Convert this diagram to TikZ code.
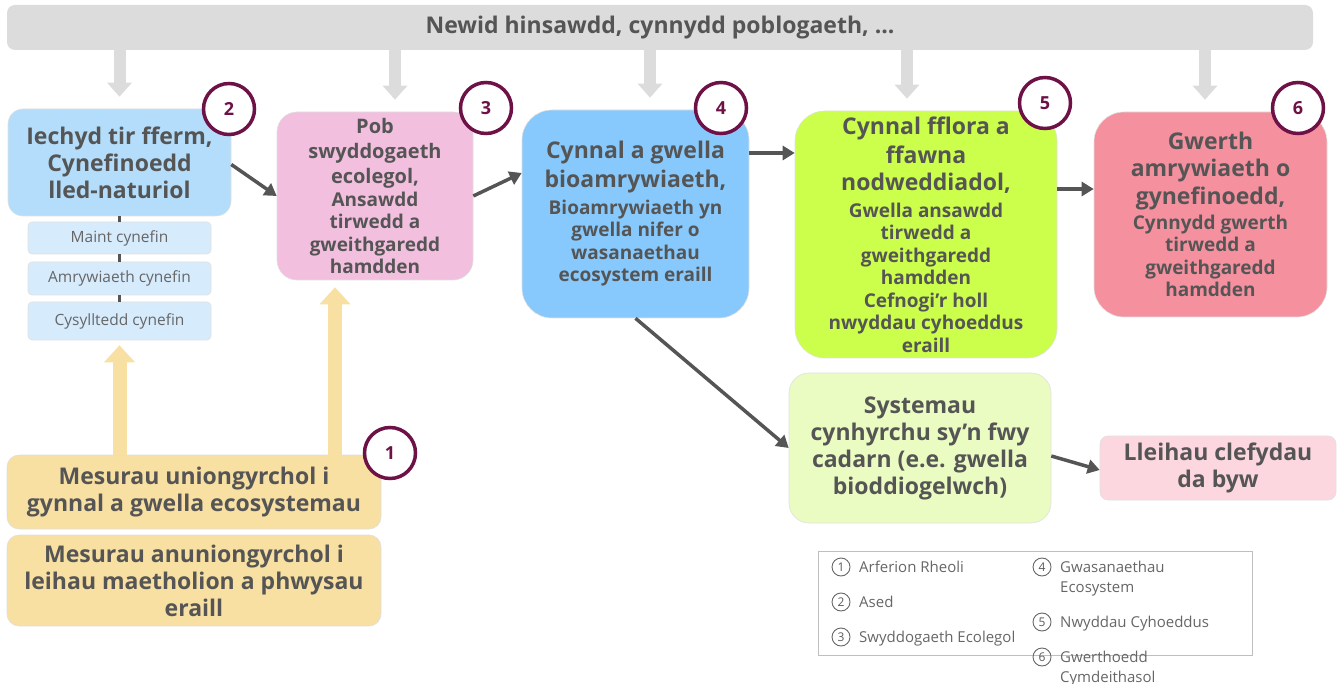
\documentclass[tikz,border=0pt]{standalone}
\usepackage{fontspec}
\setmainfont{Open Sans}
\usetikzlibrary{arrows.meta, calc, positioning}
\definecolor{txt}{HTML}{555555}
\definecolor{plum}{HTML}{6E1147}
\definecolor{bar}{HTML}{DCDCDC}
\definecolor{arr}{HTML}{555555}
\definecolor{tan}{HTML}{F8DFA2}
\definecolor{skyA}{HTML}{B3DDFB}
\definecolor{skyB}{HTML}{D6EBFC}
\definecolor{skyC}{HTML}{87C9FD}
\definecolor{pinkA}{HTML}{F2BFDE}
\definecolor{limeA}{HTML}{CCFE4C}
\definecolor{limeB}{HTML}{EBFCC2}
\definecolor{roseA}{HTML}{F5909F}
\definecolor{roseB}{HTML}{FCD7DF}
\newcommand{\bigtxt}{\fontsize{23}{27}\selectfont}
\newcommand{\midtxt}{\fontsize{20}{25}\selectfont}
\newcommand{\smtxt}{\fontsize{19}{22.5}\selectfont}
\newcommand{\drawa}{\draw[line width=3.5pt, color=arr, -{Triangle[width=14pt,length=12pt]}]}

\begin{document}
\begin{tikzpicture}[x=1pt, y=-1pt,
  box/.style={draw=black!12, line width=0.6pt, text=txt, align=center, inner sep=2pt, font=\bfseries\bigtxt},
  twosize/.style={box, font=\bfseries\smtxt},
  subbox/.style={box, fill=skyB, rounded corners=4pt, minimum width=183pt, text=black!60, font=\fontsize{15.5}{18}\selectfont},
  badge/.style={circle, draw=plum, line width=3.5pt, fill=white, minimum size=51pt, inner sep=0pt, text=plum, font=\bfseries\fontsize{18}{18}\selectfont},
  grayarrow/.style={line width=12pt, color=bar, -{Triangle[width=24pt,length=14pt]}, shorten >=12pt},
  tanarrow/.style={line width=14pt, color=tan, -{Triangle[width=30pt,length=17pt]}},
  legnum/.style={circle, draw=black!60, line width=0.9pt, minimum size=18pt, inner sep=0pt, text=black!65, font=\fontsize{12}{12}\selectfont},
  legtxt/.style={anchor=north west, align=left, text=black!60, font=\fontsize{15}{20}\selectfont, inner sep=0pt}]
\useasboundingbox (0,0) rectangle (1344,684);

% bar ar y brig
\node[box, fill=bar, draw=none, rounded corners=8pt, minimum width=1306pt, minimum height=45pt] (top) at (660,27.5)
  {Newid hinsawdd, cynnydd poblogaeth, ...};

% blychau
\node[box, fill=skyA, rounded corners=15pt, minimum width=223pt, minimum height=107pt] (ased) at (119.5,162.5)
  {Iechyd tir fferm,\\ Cynefinoedd\\ lled-naturiol};
\node[subbox, minimum height=32pt] (maint) at (119.5,238) {Maint cynefin};
\node[subbox, minimum height=33pt] (amryw) at (119.5,278.5) {Amrywiaeth cynefin};
\node[subbox, minimum height=38pt] (cysyl) at (119.5,321) {Cysylltedd cynefin};

\node[twosize, fill=pinkA, rounded corners=20pt, minimum width=196pt, minimum height=168pt] (pob) at (375,196)
  {\midtxt Pob\\[2.5pt] \midtxt swyddogaeth\\[2.5pt] \midtxt ecolegol,\\ Ansawdd\\ tirwedd a\\ gweithgaredd\\ hamdden};
\node[twosize, fill=skyC, rounded corners=30pt, minimum width=227pt, minimum height=208pt] (bio) at (635.5,214)
  {\bigtxt Cynnal a gwella\\[4.5pt] \bigtxt bioamrywiaeth,\\[4.5pt] Bioamrywiaeth yn\\ gwella nifer o\\ wasanaethau\\ ecosystem eraill};
\node[twosize, fill=limeA, rounded corners=30pt, minimum width=262pt, minimum height=247pt] (fflora) at (926,234.5)
  {\bigtxt Cynnal fflora a\\[4.5pt] \bigtxt ffawna\\[4.5pt] \bigtxt nodweddiadol,\\[4.5pt] Gwella ansawdd\\ tirwedd a\\ gweithgaredd\\ hamdden\\ Cefnogi’r holl\\ nwyddau cyhoeddus\\ eraill};
\node[twosize, fill=roseA, rounded corners=30pt, minimum width=233pt, minimum height=205pt] (gwerth) at (1210.5,214.5)
  {\bigtxt Gwerth\\[4.5pt] \bigtxt amrywiaeth o\\[4.5pt] \bigtxt gynefinoedd,\\[2pt] Cynnydd gwerth\\ tirwedd a\\ gweithgaredd\\ hamdden};
\node[box, fill=limeB, rounded corners=20pt, minimum width=262pt, minimum height=150pt] (sys) at (920,448)
  {Systemau\\ cynhyrchu sy’n fwy\\ cadarn (e.e. gwella\\ bioddiogelwch)};
\node[box, fill=roseB, rounded corners=8pt, minimum width=236pt, minimum height=64pt] (clef) at (1218,468)
  {Lleihau clefydau\\ da byw};
\node[box, fill=tan, rounded corners=12pt, minimum width=374pt, minimum height=74pt] (mes1) at (194,492)
  {Mesurau uniongyrchol i\\ gynnal a gwella ecosystemau};
\node[box, fill=tan, rounded corners=12pt, minimum width=374pt, minimum height=91pt] (mes2) at (194,580.5)
  {Mesurau anuniongyrchol i\\ leihau maetholion a phwysau\\ eraill};

% saethau llwyd o'r brig
\draw[grayarrow] (ased.north |- top.south) -- (ased.north);
\draw[grayarrow] ([xshift=20]pob.north |- top.south) -- ([xshift=20]pob.north);
\draw[grayarrow] ([xshift=14.5]bio.north |- top.south) -- ([xshift=14.5]bio.north);
\draw[grayarrow] ([xshift=-19]fflora.north |- top.south) -- ([xshift=-19]fflora.north);
\draw[grayarrow] ([xshift=-5.5]gwerth.north |- top.south) -- ([xshift=-5.5]gwerth.north);

% cysylltiadau cynefin
\draw[line width=3pt, color=arr] (ased.south) -- (maint.north);
\draw[line width=3pt, color=arr] (maint.south) -- (amryw.north);
\draw[line width=3pt, color=arr] (amryw.south) -- (cysyl.north);

% saethau mesurau
\draw[tanarrow, shorten >=5pt] (cysyl.south |- mes1.north) -- (cysyl.south);
\draw[tanarrow, shorten >=7pt] ([xshift=-40]pob.south |- mes1.north) -- ([xshift=-40]pob.south);

% saethau tywyll
\drawa ([yshift=-2]ased.east) -- (pob.west);
\drawa (pob.east) -- ([yshift=41]bio.west);
\drawa ([yshift=61]bio.east) -- ([yshift=61]bio.east -| fflora.west);
\drawa ([yshift=45.5]fflora.east) -- ([yshift=45.5]fflora.east -| gwerth.west);
\drawa (bio.south) -- (sys.west);
\drawa ([yshift=-8]sys.east) -- ([yshift=-2]clef.west);

% rhifau
\node[badge] (n1) at (390,453) {1};
\node[badge] (n2) at (229,109) {2};
\node[badge] (n3) at (486,108) {3};
\node[badge] (n4) at (721,108) {4};
\node[badge] (n5) at (1045,103) {5};
\node[badge] (n6) at (1298,108) {6};

% allwedd
\draw[black!25, line width=0.8pt] (818,551) rectangle (1252,655);
\node[legnum] (k1) at (841,567) {1};
\node[legtxt] (t1) at (859,561) {Arferion Rheoli};
\node[legnum] (k2) at (841,602) {2};
\node[legtxt] (t2) at (859,596) {Ased};
\node[legnum] (k3) at (841,637) {3};
\node[legtxt] (t3) at (859,631) {Swyddogaeth Ecolegol};
\node[legnum] (k4) at (1042,567) {4};
\node[legtxt] (t4) at (1060,561) {Gwasanaethau\\ Ecosystem};
\node[legnum] (k5) at (1042,622) {5};
\node[legtxt] (t5) at (1060,616) {Nwyddau Cyhoeddus};
\node[legnum] (k6) at (1042,657) {6};
\node[legtxt] (t6) at (1060,651) {Gwerthoedd\\ Cymdeithasol};
\end{tikzpicture}
\end{document}
